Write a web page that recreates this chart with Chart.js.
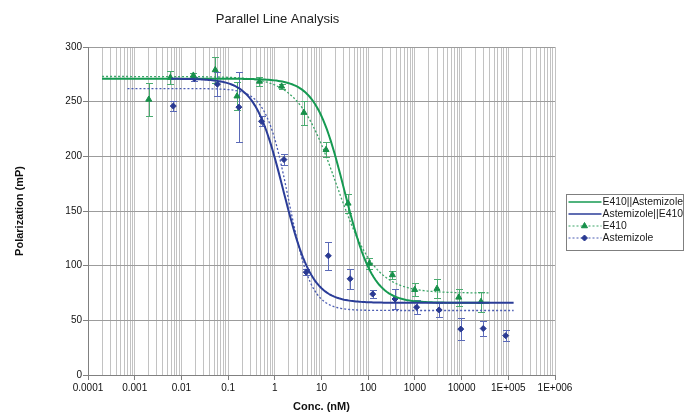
<!DOCTYPE html>
<html>
<head>
<meta charset="utf-8">
<script src="https://cdn.jsdelivr.net/npm/chart.js@4.4.1/dist/chart.umd.min.js"></script>
<style>
  html, body { margin: 0; padding: 0; background: #fff; }
  #wrap { width: 686px; height: 414px; }
</style>
</head>
<body>
<div id="wrap"><canvas id="chart" width="686" height="414"></canvas></div>
<script>
// Values
const e410Conc  = [0.002, 0.0058, 0.018, 0.053, 0.155, 0.47, 1.4, 4.2, 12.5, 37, 106, 330, 990, 2970, 8700, 26000];
const e410Polar = [252, 272, 274, 279, 255, 268.5, 264, 240, 206, 157, 102, 91.5, 78, 79, 71, 67];
const e410Err   = [15.5, 6, 2, 12, 13, 4, 2.5, 11, 7, 8.5, 5, 3.5, 6, 8.5, 8, 9];

const astConc  = [0.0067, 0.019, 0.059, 0.17, 0.52, 1.57, 4.7, 14, 41, 125, 375, 1090, 3300, 9600, 29000, 88000];
const astPolar = [246, 271, 266, 245, 232, 197, 94, 109, 88, 74, 69.5, 62, 59.5, 42, 42.5, 36];
const astErr   = [4.5, 2, 11, 32, 4.5, 5, 2.5, 13, 9, 3.7, 9, 6.4, 6, 10, 7, 5];

// fitted logistic curves: parallel fit (solid) E410, Astemizole; single fit (dotted) E410, Astemizole
const fitTop    = [271, 271, 273, 262];
const fitBottom = [66, 66, 75, 59];
const fitIC50   = [31, 1.53, 21, 1.97];
const fitHill   = [1.42, 1.42, 1.05, 1.8];
const fitFrom   = [0.0002, 0.006, 0.0002, 0.0007];
const fitTo     = [40000, 130000, 40000, 130000];

const xDecades    = [0.0001, 0.001, 0.01, 0.1, 1, 10, 100, 1000, 10000, 100000, 1000000];
const xTickLabels = ['0.0001', '0.001', '0.01', '0.1', '1', '10', '100', '1000', '10000', '1E+005', '1E+006'];

const GREEN = '#169a52', GREEN_DOT = '#3aa567', GREEN_ERR = '#4aac70';
const BLUE = '#2b3d98', BLUE_DOT = '#4b5cb3', BLUE_ERR = '#5b6ab8';

Chart.defaults.font.family = '"Liberation Sans", Arial, sans-serif';
Chart.defaults.color = '#111';

function fitCurve(i) {
    const pts = [];
    const a = Math.log10(fitFrom[i]), b = Math.log10(fitTo[i]);
    for (let k = 0; k <= 200; k++) {
        const x = Math.pow(10, a + (b - a) * k / 200);
        const y = fitBottom[i] + (fitTop[i] - fitBottom[i]) / (1 + Math.pow(x / fitIC50[i], fitHill[i]));
        pts.push({ x: x, y: y });
    }
    return pts;
}

// grid lines on every 1..9 of each decade
const xGrid = [];
xDecades.forEach((d, i) => {
    xGrid.push(d);
    if (i < xDecades.length - 1) for (let m = 2; m <= 9; m++) xGrid.push(d * m);
});

// error bars, drawn under the markers
const errorBars = {
    id: 'errorBars',
    beforeDatasetsDraw(chart) {
        const { ctx, scales: { x, y } } = chart;
        chart.data.datasets.forEach(ds => {
            if (!ds.errors) return;
            ctx.save();
            ctx.strokeStyle = ds.errorColor;
            ctx.lineWidth = 1;
            ds.data.forEach((p, i) => {
                const px = Math.round(x.getPixelForValue(p.x)) + 0.5;
                const top = Math.round(y.getPixelForValue(p.y + ds.errors[i])) + 0.5;
                const bot = Math.round(y.getPixelForValue(p.y - ds.errors[i])) + 0.5;
                ctx.beginPath();
                ctx.moveTo(px, top); ctx.lineTo(px, bot);
                ctx.moveTo(px - 3.5, top); ctx.lineTo(px + 3.5, top);
                ctx.moveTo(px - 3.5, bot); ctx.lineTo(px + 3.5, bot);
                ctx.stroke();
            });
            ctx.restore();
        });
    }
};

// boxed legend on the right, like the spreadsheet one
const boxLegend = {
    id: 'boxLegend',
    afterDraw(chart) {
        const ctx = chart.ctx;
        const items = chart.data.datasets.filter(d => d.legendRow !== undefined)
            .sort((a, b) => a.legendRow - b.legendRow);
        const left = 566.5, top = 194.5, w = 117, h = 56;
        ctx.save();
        ctx.strokeStyle = '#7f7f7f';
        ctx.lineWidth = 1;
        ctx.strokeRect(left, top, w, h);
        ctx.font = '10.4px "Liberation Sans", Arial, sans-serif';
        ctx.textBaseline = 'middle';
        items.forEach(d => {
            const yy = top + 7.5 + d.legendRow * 12;
            ctx.strokeStyle = d.legendLine;
            ctx.lineWidth = d.legendDash ? 1 : 1.5;
            ctx.setLineDash(d.legendDash || []);
            ctx.beginPath();
            ctx.moveTo(left + 2, yy);
            ctx.lineTo(left + 35, yy);
            ctx.stroke();
            ctx.setLineDash([]);
            if (d.showLine === false) {
                ctx.fillStyle = d.pointBackgroundColor;
                ctx.strokeStyle = d.pointBorderColor;
                Chart.helpers.drawPoint(ctx, { pointStyle: d.pointStyle, radius: d.pointRadius, borderWidth: 1 }, left + 18, yy);
            }
            ctx.fillStyle = '#1a1a1a';
            ctx.fillText(d.label, left + 36, yy + 0.5);
        });
        ctx.restore();
    }
};

const toXY = (xs, ys) => xs.map((x, i) => ({ x: x, y: ys[i] }));

new Chart(document.getElementById('chart'), {
    type: 'scatter',
    data: {
        datasets: [
            { label: 'Astemizole||E410', data: fitCurve(1), showLine: true, borderColor: BLUE, borderWidth: 2,
              pointRadius: 0, legendRow: 1, legendLine: BLUE },
            { label: 'E410||Astemizole', data: fitCurve(0), showLine: true, borderColor: GREEN, borderWidth: 2,
              pointRadius: 0, legendRow: 0, legendLine: GREEN },
            { label: 'E410', data: toXY(e410Conc, e410Polar), showLine: false, pointStyle: 'triangle', pointRadius: 3.5,
              pointBackgroundColor: '#17904a', pointBorderColor: '#17904a', errors: e410Err, errorColor: GREEN_ERR,
              legendRow: 2, legendLine: GREEN_DOT, legendDash: [2, 2] },
            { label: 'Astemizole', data: toXY(astConc, astPolar), showLine: false, pointStyle: 'rectRot', pointRadius: 3,
              pointBackgroundColor: '#2a3a92', pointBorderColor: '#2a3a92', errors: astErr, errorColor: BLUE_ERR,
              legendRow: 3, legendLine: BLUE_DOT, legendDash: [2, 2] },
            { label: 'E410 fit', data: fitCurve(2), showLine: true, borderColor: GREEN_DOT, borderWidth: 1.3,
              borderDash: [2, 2], pointRadius: 0 },
            { label: 'Astemizole fit', data: fitCurve(3), showLine: true, borderColor: BLUE_DOT, borderWidth: 1.3,
              borderDash: [2, 2], pointRadius: 0 }
        ]
    },
    options: {
        responsive: false,
        animation: false,
        layout: { padding: { left: 0, right: 131, top: 0, bottom: 0 } },
        plugins: {
            legend: { display: false },
            tooltip: { enabled: false },
            title: {
                display: true, text: 'Parallel Line Analysis', color: '#222',
                font: { size: 13, weight: 'normal' }, padding: { top: 12, bottom: 19.4 }
            }
        },
        scales: {
            x: {
                type: 'logarithmic', min: 0.0001, max: 1000000,
                afterBuildTicks: (scale) => { scale.ticks = xGrid.map(v => ({ value: v })); },
                afterFit: (scale) => { scale.height = 39; },
                ticks: {
                    autoSkip: false, maxRotation: 0, padding: 2, color: '#111', font: { size: 10 },
                    callback: (v) => { const i = xDecades.indexOf(v); return i >= 0 ? xTickLabels[i] : ''; }
                },
                grid: {
                    color: '#c2c2c2', tickLength: 5,
                    tickColor: (c) => xDecades.indexOf(c.tick && c.tick.value) >= 0 ? '#808080' : 'rgba(0,0,0,0)'
                },
                border: { color: '#808080' },
                title: { display: true, text: 'Conc. (nM)', font: { size: 11, weight: 'bold' }, color: '#111', padding: { top: 1, bottom: 0 } }
            },
            y: {
                min: 0, max: 300,
                afterFit: (scale) => { scale.width = 88; },
                ticks: { stepSize: 50, padding: 1, color: '#111', font: { size: 10 } },
                grid: { color: '#9c9c9c', tickColor: '#808080', tickLength: 5 },
                border: { color: '#808080' },
                title: { display: true, text: 'Polarization (mP)', font: { size: 11, weight: 'bold' }, color: '#111', padding: { top: 13, bottom: 0 } }
            }
        }
    },
    plugins: [errorBars, boxLegend]
});
</script>
</body>
</html>
